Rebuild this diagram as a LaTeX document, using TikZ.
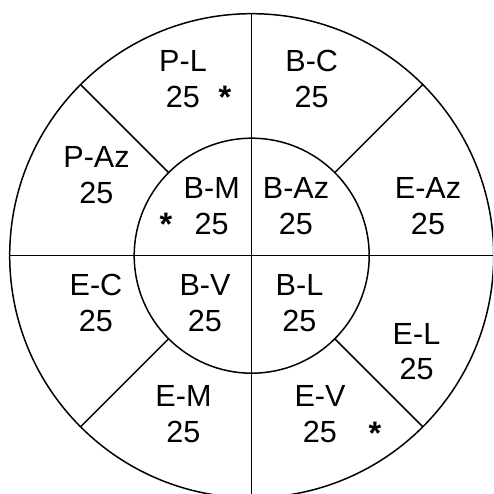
\documentclass[tikz,border=0pt]{standalone}
\usepackage{fontspec}
\setmainfont{Liberation Sans}
\usepackage{tikz}

\begin{document}
\begin{tikzpicture}[
    ring/.style={line width=0.85pt},
    sector/.style={font=\fontsize{17.4}{20.4}\selectfont,align=center,inner sep=0pt},
    mark star/.style={font=\fontsize{18.5}{20.4}\selectfont\bfseries,anchor=base,inner sep=0pt}]
  \useasboundingbox (-5.034,-4.766) rectangle (4.826,5.114);
  \clip (-5.034,-4.766) rectangle (4.826,5.114);
  % Circles
  \draw[ring] (0,0) circle (4.84);
  \draw[ring] (0,0) circle (2.35);
  % Cross lines
  \draw[ring] (0,4.84) -- (0,-4.84);
  \draw[ring] (-4.84,0) -- (4.84,0);
  \foreach \a in {45,135,225,315}
    \draw[ring] (\a:2.35) -- (\a:4.84);

  % Outer ring
  \node[sector] (pl)  at (-1.374,3.53)  {P-L\\25};
  \node[sector] (bc)  at (1.2,3.53)     {B-C\\25};
  \node[sector] (paz) at (-3.104,1.614) {P-Az\\25};
  \node[sector] (eaz) at (3.526,0.988)  {E-Az\\25};
  \node[sector] (ec)  at (-3.114,-0.952) {E-C\\25};
  \node[sector] (el)  at (3.296,-1.92)  {E-L\\25};
  \node[sector] (em)  at (-1.364,-3.162) {E-M\\25};
  \node[sector] (ev)  at (1.366,-3.162) {E-V\\25};
  % Inner circle
  \node[sector] (bm)  at (-0.8,0.988)   {B-M\\25};
  \node[sector] (baz) at (0.886,0.988)  {B-Az\\25};
  \node[sector] (bv)  at (-0.934,-0.952) {B-V\\25};
  \node[sector] (bl)  at (0.956,-0.952) {B-L\\25};

  % Asterisks
  \node[mark star] (plstar) at (-0.534,2.948) {*};
  \node[mark star] (bmstar) at (-1.714,0.394) {*};
  \node[mark star] (evstar) at (2.466,-3.772) {*};
\end{tikzpicture}
\end{document}
